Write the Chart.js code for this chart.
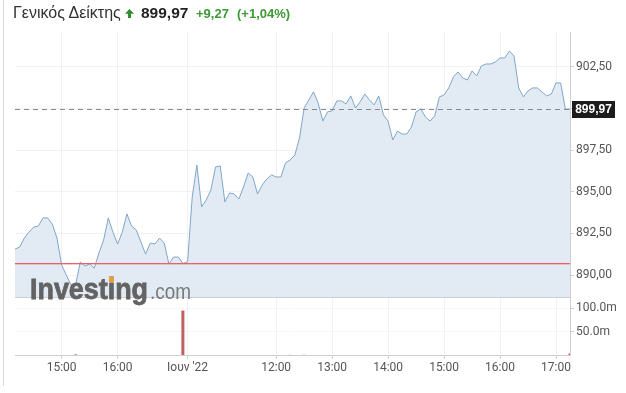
<!DOCTYPE html>
<html>
<head>
<meta charset="utf-8">
<script src="https://cdn.jsdelivr.net/npm/chart.js@4/dist/chart.umd.min.js"></script>
<style>
  body { margin: 0; background: #fff; }
  #wrap { position: relative; width: 626px; height: 393px; overflow: hidden; }
  #frame { position: absolute; left: 3px; top: 0; width: 1px; height: 386px; background: #d9d9d9; }
  #head span, #head svg { position: absolute; top: 3px; line-height: 20px; white-space: nowrap; font-family: "Liberation Sans", Arial, sans-serif; }
  #name { left: 13px; font-size: 16px; color: #333; }
  #last { left: 141px; font-size: 15.5px; font-weight: bold; color: #222; }
  #chg { left: 196px; font-size: 13px; font-weight: bold; color: #3d9a34; top: 4px !important; }
  #pct { left: 237px; font-size: 13px; font-weight: bold; color: #3d9a34; top: 4px !important; }
</style>
</head>
<body>
<div id="wrap">
  <canvas id="chart" width="626" height="393"></canvas>
  <div id="frame"></div>
  <div id="head">
    <span id="name">Γενικός Δείκτης</span>
    <svg id="arrow" width="9" height="9" viewBox="0 0 9 9" style="left:125px;top:9px;"><polygon points="4.5,0 9,4.8 6,4.8 6,9 3,9 3,4.8 0,4.8" fill="#2f8f2a"/></svg>
    <span id="last"></span>
    <span id="chg"></span>
    <span id="pct"></span>
  </div>
</div>
<script>
// previous session (14:10 - 17:10) and current session (10:25 - 17:15), 5 minute steps
const day1Start = [14, 10], day1Count = 37;
const day2Start = [10, 25], day2Count = 83;
const dayBreakLabel = "Ιουν '22";
const day1Ticks = ['15:00', '16:00'];
const day2Ticks = ['12:00', '13:00', '14:00', '15:00', '16:00', '17:00'];

const pricesDay1 = [
  891.56, 891.68, 892.22, 892.58, 892.88, 892.94, 893.43, 893.43, 893.06, 892.22,
  890.60, 890.00, 889.40, 889.40, 890.78, 890.54, 890.66, 890.42, 891.32, 892.10,
  893.43, 892.58, 891.86, 892.58, 893.67, 892.94, 892.70, 891.98, 891.26, 891.92,
  891.86, 892.22, 891.92, 890.66, 891.08, 891.08, 890.70
];
const pricesDay2 = [
  890.78, 894.69, 896.61, 894.09, 894.51, 895.11, 896.49, 896.55, 894.39, 894.93,
  894.87, 894.57, 895.29, 896.13, 895.89, 894.87, 895.41, 895.77, 896.01, 895.89,
  895.89, 896.73, 896.91, 897.21, 898.23, 900.04, 900.52, 901.00, 900.34, 899.25,
  899.80, 899.86, 900.46, 900.46, 900.28, 900.76, 900.04, 900.40, 900.88, 900.52,
  900.22, 900.76, 899.62, 899.25, 898.11, 898.65, 898.47, 898.47, 898.89, 899.80,
  899.98, 899.50, 899.25, 899.56, 900.70, 900.82, 901.24, 901.90, 902.20, 901.84,
  901.72, 902.26, 901.96, 902.56, 902.68, 902.68, 902.80, 903.04, 903.04, 903.46,
  903.16, 901.24, 900.70, 901.06, 901.24, 901.24, 901.00, 900.76, 900.88, 901.54,
  901.54, 899.97, 899.97
];
// volume in millions (most 5-minute volumes are too small to show)
const volumesDay1 = [
  0, 0, 0, 0, 0, 0, 0, 0, 0, 0,
  0, 0, 0, 1.2, 0, 0, 0, 0, 0, 0,
  0, 0, 0, 0, 0, 0, 0, 0, 0, 0,
  0, 0, 0, 0, 0, 0, 95.0
];
const volumesDay2 = [
  0, 0, 0, 0, 0, 0, 0, 0, 0, 0,
  0, 0, 0, 0, 0, 0, 0, 0, 0, 0,
  0, 0, 1.0, 0, 0, 1.2, 0, 0, 0, 0,
  0, 0, 0, 0, 0, 0, 0, 0, 0, 0,
  0, 0, 0, 0, 0, 0, 0, 0, 0, 0,
  0, 0, 0, 0, 0, 0, 0, 0, 0, 0,
  0, 0, 0, 0, 0, 0, 0, 0, 0, 0,
  0, 0, 0, 0, 0, 0, 0, 0, 0, 0,
  0, 0, 3.0
];
const prevClose = 890.70;
const lastPrice = 899.97;

function timeLabels(start, count) {
  const out = [];
  for (let k = 0; k < count; k++) {
    const t = start[0] * 60 + start[1] + 5 * k;
    out.push(String(Math.floor(t / 60)).padStart(2, '0') + ':' + String(t % 60).padStart(2, '0'));
  }
  return out;
}
const day1Times = timeLabels(day1Start, day1Count);
const day2Times = timeLabels(day2Start, day2Count);
const labels = day1Times.concat(day2Times);
const prices = pricesDay1.concat(pricesDay2);
const volumes = volumesDay1.concat(volumesDay2);

const fmt = v => v.toFixed(2).replace('.', ',');
document.getElementById('last').textContent = fmt(lastPrice);
document.getElementById('chg').textContent = '+' + fmt(lastPrice - prevClose);
document.getElementById('pct').textContent = '(+' + fmt((lastPrice - prevClose) / prevClose * 100) + '%)';

const volColors = prices.map((p, i) => (i > 0 && p > prices[i - 1]) ? 'rgba(200,200,200,0.8)' : 'rgba(194,96,96,1)');

const overlay = {
  id: 'overlay',
  afterDraw(chart) {
    const { ctx, chartArea: a, scales } = chart;
    const y = scales.yPrice;
    ctx.save();
    ctx.lineWidth = 1;
    // pane separator
    ctx.strokeStyle = '#cfcfcf';
    let yy = Math.round(y.bottom) + 0.5;
    ctx.beginPath(); ctx.moveTo(a.left, yy); ctx.lineTo(a.right, yy); ctx.stroke();
    // previous close
    yy = Math.round(y.getPixelForValue(prevClose));
    ctx.fillStyle = '#e86464';
    ctx.fillRect(a.left, yy, a.right - a.left, 1);
    ctx.fillStyle = 'rgba(232,100,100,0.35)';
    ctx.fillRect(a.left, yy + 1, a.right - a.left, 1);
    // last price dashed
    const yl = y.getPixelForValue(lastPrice);
    yy = Math.round(yl) + 0.5;
    ctx.strokeStyle = '#8a8a8a';
    ctx.setLineDash([5, 4]);
    ctx.beginPath(); ctx.moveTo(a.left, yy); ctx.lineTo(a.right, yy); ctx.stroke();
    ctx.setLineDash([]);
    // last price box
    ctx.fillStyle = '#1c1c1c';
    ctx.fillRect(a.right + 2, Math.round(yl) - 8, 43, 17);
    ctx.fillStyle = '#fff';
    ctx.font = 'bold 12px "Liberation Sans", Arial, sans-serif';
    ctx.textAlign = 'center';
    ctx.textBaseline = 'middle';
    ctx.fillText(fmt(lastPrice), a.right + 23.5, Math.round(yl) + 0.5);
    // watermark
    ctx.textAlign = 'left';
    ctx.textBaseline = 'alphabetic';
    const bx = a.left + 15, by = y.bottom + 2;
    ctx.font = 'bold 29px "Liberation Sans", Arial, sans-serif';
    const w = ctx.measureText('Investing').width;
    const sx = 118 / w;
    const wI = ctx.measureText('Invest').width;
    const wi = ctx.measureText('i').width;
    ctx.save();
    ctx.translate(bx, by);
    ctx.scale(sx, 1);
    ctx.fillStyle = '#636363';
    ctx.strokeStyle = '#636363';
    ctx.lineWidth = 0.8;
    ctx.fillText('Investing', 0, 0);
    ctx.strokeText('Investing', 0, 0);
    ctx.restore();
    ctx.fillStyle = '#f0a030';
    ctx.fillRect(bx + (wI + wi / 2) * sx - 2.5, by - 22, 5, 5);
    ctx.font = '22px "Liberation Sans", Arial, sans-serif';
    const wc = ctx.measureText('.com').width;
    ctx.save();
    ctx.translate(bx + 120, by);
    ctx.scale(41 / wc, 1);
    ctx.fillStyle = '#7a7a7a';
    ctx.fillText('.com', 0, 0);
    ctx.restore();
    ctx.restore();
  }
};

const tickFont = { family: 'Roboto, "Liberation Sans", sans-serif', size: 12 };

new Chart(document.getElementById('chart'), {
  type: 'line',
  data: {
    labels: labels,
    datasets: [{
      data: prices,
      yAxisID: 'yPrice',
      borderColor: '#80a6c9',
      borderWidth: 1,
      backgroundColor: 'rgba(226,235,244,1)',
      fill: 'start',
      pointRadius: 0,
      tension: 0
    }, {
      type: 'bar',
      data: volumes,
      yAxisID: 'yVol',
      backgroundColor: volColors,
      barThickness: 3,
      inflateAmount: 0
    }]
  },
  options: {
    responsive: false,
    animation: false,
    layout: { padding: { top: 32, left: 15, right: 0, bottom: 0 } },
    plugins: { legend: { display: false }, tooltip: { enabled: false } },
    scales: {
      x: {
        type: 'category',
        offset: false,
        grid: { offset: false, color: 'rgba(0,0,0,0.05)', tickLength: 4, tickColor: '#d0d0d0' },
        border: { color: '#cfcfcf' },
        ticks: {
          autoSkip: false,
          maxRotation: 0,
          padding: 2,
          color: '#555',
          font: tickFont,
          callback: (v, i) => {
            if (i < day1Times.length) return day1Ticks.includes(day1Times[i]) ? day1Times[i] : null;
            const j = i - day1Times.length;
            if (j === 0) return dayBreakLabel;
            return day2Ticks.includes(day2Times[j]) ? day2Times[j] : null;
          }
        },
        afterFit: s => { s.height = 38; }
      },
      yPrice: {
        position: 'right',
        stack: 'panes',
        stackWeight: 265,
        min: 888.68,
        max: 904.60,
        grid: { color: 'rgba(0,0,0,0.05)', tickLength: 4, tickColor: '#d0d0d0' },
        border: { color: '#cfcfcf' },
        ticks: {
          stepSize: 2.5,
          includeBounds: false,
          padding: 2,
          color: '#555',
          font: tickFont,
          callback: v => fmt(v)
        },
        afterFit: s => { s.width = 56; }
      },
      yVol: {
        position: 'right',
        stack: 'panes',
        stackWeight: 58,
        min: 0,
        max: 124,
        grid: { color: 'rgba(0,0,0,0.03)', tickLength: 4, tickColor: '#d0d0d0' },
        border: { color: '#cfcfcf' },
        ticks: {
          stepSize: 50,
          includeBounds: false,
          autoSkip: false,
          padding: 2,
          color: '#555',
          font: tickFont,
          callback: v => v === 0 ? null : v.toFixed(1) + 'm'
        },
        afterFit: s => { s.width = 56; }
      }
    }
  },
  plugins: [overlay]
});
</script>
</body>
</html>
